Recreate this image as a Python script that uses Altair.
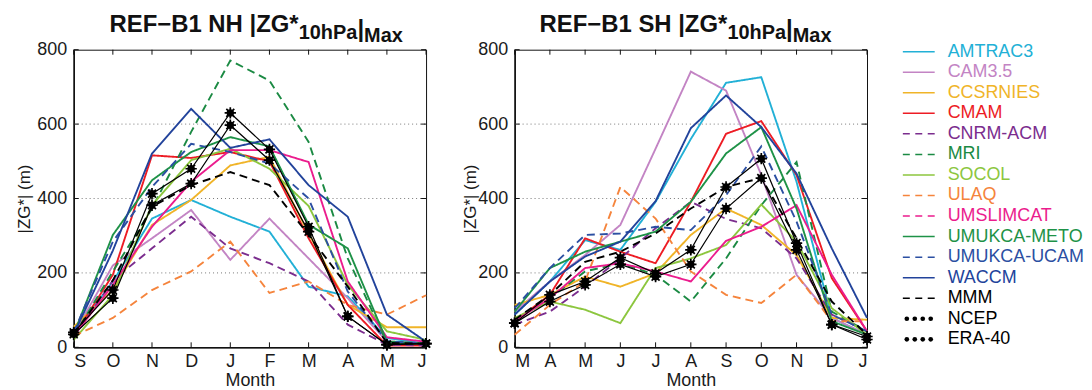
import altair as alt
import pandas as pd

FONT = "Liberation Sans"

models = ["AMTRAC3", "CAM3.5", "CCSRNIES", "CMAM", "CNRM-ACM", "MRI", "SOCOL",
          "ULAQ", "UMSLIMCAT", "UMUKCA-METO", "UMUKCA-UCAM", "WACCM", "MMM",
          "NCEP", "ERA-40"]
colors = ["#22b0d6", "#c384c4", "#f0b428", "#ed1c24", "#7b2d8e", "#1b8a43",
          "#8cc63e", "#f5843c", "#eb1c8d", "#1e9247", "#2b4fa2", "#22439b",
          "#000000", "#000000", "#000000"]
plot_dashed = ["CNRM-ACM", "MRI", "ULAQ", "UMUKCA-UCAM", "MMM"]
legend_dashed = ["CNRM-ACM", "MRI", "ULAQ", "UMSLIMCAT", "UMUKCA-UCAM", "MMM"]
marker_series = ["NCEP", "ERA-40"]

nh_months = ["S", "O", "N", "D", "J", "F", "M", "A", "M", "J"]
sh_months = ["M", "A", "M", "J", "J", "A", "S", "O", "N", "D", "J"]
y_ticks = [0, 200, 400, 600, 800]
grid_vals = [200, 400, 600]

nh = {
    "AMTRAC3":     [35, 177, 346, 396, 351, 311, 163, 137, 25, 10],
    "CAM3.5":      [35, 220, 293, 369, 235, 346, 239, 132, 16, 10],
    "CCSRNIES":    [55, 154, 329, 396, 489, 512, 306, 114, 54, 54],
    "CMAM":        [30, 195, 516, 509, 525, 500, 293, 114, 5, 5],
    "CNRM-ACM":    [25, 180, 266, 351, 266, 226, 177, 61, 7, 5],
    "MRI":         [30, 204, 373, 579, 771, 717, 552, 239, 12, 10],
    "SOCOL":       [20, 141, 382, 503, 534, 480, 380, 168, 43, 20],
    "ULAQ":        [30, 79, 154, 204, 284, 146, 177, 114, 88, 140],
    "UMSLIMCAT":   [30, 168, 324, 445, 530, 530, 498, 177, 27, 15],
    "UMUKCA-METO": [35, 302, 449, 525, 565, 540, 330, 266, 16, 10],
    "UMUKCA-UCAM": [40, 284, 431, 547, 525, 494, 400, 150, 16, 10],
    "WACCM":       [35, 260, 521, 641, 536, 559, 436, 351, 88, 15],
    "MMM":         [35, 180, 378, 436, 471, 436, 302, 163, 12, 10],
    "NCEP":        [35, 132, 382, 440, 597, 503, 311, 83, 7, 10],
    "ERA-40":      [40, 154, 413, 480, 630, 532, 324, 83, 7, 10],
}

sh = {
    "AMTRAC3":     [88, 177, 288, 262, 391, 560, 711, 726, 445, 79, 34],
    "CAM3.5":      [96, 177, 248, 329, 534, 741, 690, 463, 195, 79, 34],
    "CCSRNIES":    [114, 141, 190, 163, 199, 302, 373, 329, 248, 79, 74],
    "CMAM":        [70, 141, 293, 257, 226, 391, 574, 608, 463, 186, 43],
    "CNRM-ACM":    [61, 96, 163, 239, 320, 391, 345, 320, 239, 88, 43],
    "MRI":         [74, 132, 204, 226, 195, 123, 239, 382, 498, 96, 43],
    "SOCOL":       [79, 123, 101, 65, 213, 239, 275, 384, 284, 105, 34],
    "ULAQ":        [34, 114, 177, 431, 346, 204, 141, 119, 195, 70, 70],
    "UMSLIMCAT":   [70, 132, 213, 226, 204, 177, 286, 324, 382, 195, 43],
    "UMUKCA-METO": [96, 213, 257, 284, 311, 391, 521, 592, 373, 70, 34],
    "UMUKCA-UCAM": [105, 213, 302, 306, 324, 315, 409, 540, 338, 88, 43],
    "WACCM":       [88, 177, 244, 284, 393, 589, 677, 592, 467, 266, 79],
    "MMM":         [74, 141, 230, 257, 306, 373, 431, 455, 293, 123, 34],
    "NCEP":        [65, 141, 177, 241, 199, 262, 431, 507, 280, 61, 29],
    "ERA-40":      [65, 123, 168, 223, 190, 223, 373, 455, 262, 61, 21],
}

W, H = 354, 299

# Arial/Liberation Sans Bold advance widths (em)
BOLD_W = {"R": .722, "E": .667, "F": .611, "\u2212": .584, "B": .722, "1": .556,
          " ": .278, "N": .722, "H": .722, "S": .667, "|": .280, "Z": .611,
          "G": .778, "*": .389, "0": .556, "h": .611, "P": .667, "a": .556,
          "M": .833, "x": .556}


def text_w(s, size):
    return sum(BOLD_W.get(c, .6) for c in s) * size


color_enc = alt.Color("model:N", scale=alt.Scale(domain=models, range=colors), legend=None)
dash_enc = alt.StrokeDash(
    "model:N",
    scale=alt.Scale(domain=models, range=[[8, 5] if m in plot_dashed else [1, 0] for m in models]),
    legend=None)
one = pd.DataFrame({"a": [0]})


def title_layers(hemi, x0):
    main = "REF\u2212B1 " + hemi + " |ZG*"
    parts = [(main, 24, -18), ("10hPa", 20, -11), ("|", 24, -13), ("Max", 20, -8)]
    layers = []
    x = x0
    for txt, size, yb in parts:
        layers.append(
            alt.Chart(one).mark_text(text=txt, fontSize=size, fontWeight="bold", font=FONT,
                                     align="left", baseline="alphabetic", color="#111")
            .encode(x=alt.value(x), y=alt.value(yb)))
        x += text_w(txt, size)
    return layers


def build_panel(months, values, hemi, title_x0, ytitle_x):
    n = len(months)
    rows = []
    for m in models:
        for i, v in enumerate(values[m]):
            rows.append({"model": m, "idx": i, "val": v})
    df = pd.DataFrame(rows)
    df_lines = df[~df.model.isin(marker_series)]
    df_mark = df[df.model.isin(marker_series)]
    label_expr = "[" + ",".join("'%s'" % m for m in months) + "][datum.value]"

    x = alt.X("idx:Q",
              scale=alt.Scale(domain=[0, n - 1], nice=False, zero=False),
              axis=alt.Axis(values=list(range(n)), labelExpr=label_expr, title="Month",
                            tickSize=0, labelPadding=5, labelFontSize=18, labelFont=FONT,
                            labelColor="#1a1a1a", titleFont=FONT, titleFontSize=18,
                            titleFontWeight="normal", titleColor="#1a1a1a", titlePadding=1,
                            grid=False, domainColor="#111", domainWidth=1.6))
    y = alt.Y("val:Q",
              scale=alt.Scale(domain=[0, 800], nice=False),
              axis=alt.Axis(values=y_ticks, title="|ZG*| (m)", tickSize=0, labelPadding=7,
                            labelFontSize=18, labelFont=FONT, labelColor="#1a1a1a",
                            titleFont=FONT, titleFontSize=17, titleFontWeight="normal",
                            titleColor="#1a1a1a", titleX=ytitle_x, titleY=H / 2, titleAngle=270,
                            titleAlign="center", titleBaseline="middle",
                            grid=False, domainColor="#111", domainWidth=1.6))

    grid = alt.Chart(pd.DataFrame({"val": grid_vals})).mark_rule(
        color="#777", strokeDash=[1, 3], strokeWidth=1).encode(
        y=y, x=alt.value(0), x2=alt.value(W))
    lines = alt.Chart(df_lines).mark_line(strokeWidth=1.9).encode(
        x=x, y=y, color=color_enc, strokeDash=dash_enc, detail="model:N", order="idx:Q")
    mlines = alt.Chart(df_mark).mark_line(strokeWidth=1.2, color="black").encode(
        x=x, y=y, detail="model:N", order="idx:Q")
    dots = alt.Chart(df_mark).mark_point(shape="circle", filled=True, size=55,
                                         color="black", opacity=1).encode(x=x, y=y)
    stars = alt.Chart(df_mark).mark_point(
        shape="M-1,0L1,0M0,-1L0,1M-0.7,-0.7L0.7,0.7M-0.7,0.7L0.7,-0.7",
        filled=False, size=130, strokeWidth=1.7, color="black", opacity=1).encode(x=x, y=y)

    xt = pd.DataFrame({"idx": list(range(n))})
    yt = pd.DataFrame({"val": y_ticks})
    tb = alt.Chart(xt).mark_rule(color="#111", strokeWidth=1).encode(
        x=x, y=alt.value(H), y2=alt.value(H - 5))
    tt = alt.Chart(xt).mark_rule(color="#111", strokeWidth=1).encode(
        x=x, y=alt.value(0), y2=alt.value(5))
    tl = alt.Chart(yt).mark_rule(color="#111", strokeWidth=1).encode(
        y=y, x=alt.value(0), x2=alt.value(5))
    tr = alt.Chart(yt).mark_rule(color="#111", strokeWidth=1).encode(
        y=y, x=alt.value(W - 5), x2=alt.value(W))

    layers = [grid, lines, mlines, dots, stars, tb, tt, tl, tr] + title_layers(hemi, title_x0)
    return alt.layer(*layers).properties(width=W, height=H)


left = build_panel(nh_months, nh, "NH", 36, -49)
right = build_panel(sh_months, sh, "SH", 25, -44)

# legend panel
ROW0, ROWSTEP = 2, 20.64
leg_rows = []
dot_rows = []
for i, m in enumerate(models):
    yy = ROW0 + i * ROWSTEP
    if m in marker_series:
        for px in [-49, -41, -33, -25]:
            dot_rows.append({"model": m, "px": px, "y": yy})
    leg_rows.append({"model": m, "y": yy, "x0": -53, "x1": -21,
                     "kind": ("marker" if m in marker_series else
                              "dashed" if m in legend_dashed else "solid")})
leg_df = pd.DataFrame(leg_rows)
dot_df = pd.DataFrame(dot_rows)

ly = alt.Y("y:Q", scale=None, axis=None)
solid_r = alt.Chart(leg_df[leg_df.kind == "solid"]).mark_rule(strokeWidth=1.5).encode(
    x=alt.X("x0:Q", scale=None, axis=None), x2="x1:Q", y=ly, color=color_enc)
dash_r = alt.Chart(leg_df[leg_df.kind == "dashed"]).mark_rule(
    strokeWidth=1.5, strokeDash=[7, 5.5]).encode(
    x=alt.X("x0:Q", scale=None, axis=None), x2="x1:Q", y=ly, color=color_enc)
leg_dots = alt.Chart(dot_df).mark_point(shape="circle", filled=True, size=22,
                                        color="black", opacity=1).encode(
    x=alt.X("px:Q", scale=None, axis=None), y=ly)
leg_text = alt.Chart(leg_df).mark_text(align="left", baseline="middle", fontSize=18,
                                       font=FONT).encode(
    x=alt.value(-8), y=ly, text="model:N", color=color_enc)
legend = alt.layer(solid_r, dash_r, leg_dots, leg_text).properties(
    width=118, height=H, view=alt.ViewBackground(stroke=None))

chart = alt.hconcat(left, right, legend, spacing=89, bounds="flush").properties(
    padding={"left": 7, "top": 3, "right": 0, "bottom": 0}
).configure_view(stroke="#111", strokeWidth=1)

chart.save("out.html", embed_options={"renderer": "svg", "actions": False})
